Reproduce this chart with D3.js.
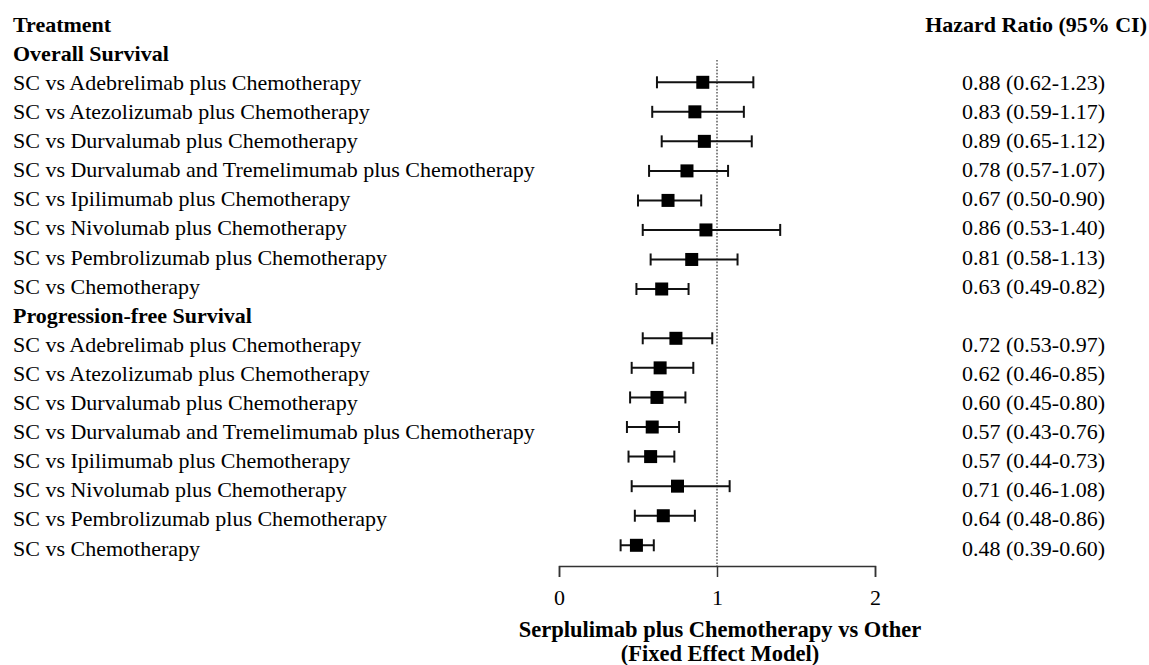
<html>

<script src="https://d3js.org/d3.v7.min.js"></script>

<style>
    body { margin: 0; background: #fff; }
    svg text {
        font-family: "Liberation Serif", "Times New Roman", serif;
        font-size: 22px;
        fill: #000;
    }
    .bold { font-weight: bold; }
    .title { font-size: 22.5px; }
    .ci line { stroke: #111; stroke-width: 2px; }
    .ref { stroke: #666; stroke-width: 1.6px; stroke-dasharray: 1.6,1.6; }
    .axis path, .axis line { stroke: #333; stroke-width: 1.5px; }
</style>

<svg width=1149 height=665></svg>

<script>
    // comparisons (same for both endpoints)
    let treatments = [
        'SC vs Adebrelimab plus Chemotherapy',
        'SC vs Atezolizumab plus Chemotherapy',
        'SC vs Durvalumab plus Chemotherapy',
        'SC vs Durvalumab and Tremelimumab plus Chemotherapy',
        'SC vs Ipilimumab plus Chemotherapy',
        'SC vs Nivolumab plus Chemotherapy',
        'SC vs Pembrolizumab plus Chemotherapy',
        'SC vs Chemotherapy'
    ];

    // reported hazard ratios (right-hand column)
    let osHR  = [0.88, 0.83, 0.89, 0.78, 0.67, 0.86, 0.81, 0.63];
    let osLo  = [0.62, 0.59, 0.65, 0.57, 0.50, 0.53, 0.58, 0.49];
    let osHi  = [1.23, 1.17, 1.12, 1.07, 0.90, 1.40, 1.13, 0.82];
    let pfsHR = [0.72, 0.62, 0.60, 0.57, 0.57, 0.71, 0.64, 0.48];
    let pfsLo = [0.53, 0.46, 0.45, 0.43, 0.44, 0.46, 0.48, 0.39];
    let pfsHi = [0.97, 0.85, 0.80, 0.76, 0.73, 1.08, 0.86, 0.60];

    // marks as drawn in the plot
    let osPoint  = [0.91, 0.86, 0.92, 0.81, 0.69, 0.93, 0.84, 0.65];
    let osBarLo  = [0.62, 0.59, 0.65, 0.57, 0.50, 0.53, 0.58, 0.49];
    let osBarHi  = [1.23, 1.17, 1.22, 1.07, 0.90, 1.40, 1.13, 0.82];
    let pfsPoint = [0.74, 0.64, 0.62, 0.59, 0.58, 0.75, 0.66, 0.49];
    let pfsBarLo = [0.53, 0.46, 0.45, 0.43, 0.44, 0.46, 0.48, 0.39];
    let pfsBarHi = [0.97, 0.85, 0.80, 0.76, 0.73, 1.08, 0.86, 0.60];

    let xTicks = [0, 1, 2];

    let svg = d3.select('svg');

    let x = d3.scaleLinear().domain([0, 2]).range([559, 875]);

    // text lines: header, OS group, rows, PFS group, rows
    let lineY = i => 24 + 29.1 * i;
    let osMarkY = d3.scaleLinear().domain([0, 7]).range([82.3, 289]);
    let pfsMarkY = d3.scaleLinear().domain([0, 7]).range([338.3, 545.3]);

    let f2 = d3.format('.2f');
    let hrText = (h, l, u) => f2(h) + ' (' + f2(l) + '-' + f2(u) + ')';

    let lines = [{ t: 'Treatment', bold: true },
                 { t: 'Overall Survival', bold: true }]
        .concat(treatments.map((t, i) => ({ t: t, v: hrText(osHR[i], osLo[i], osHi[i]) })))
        .concat([{ t: 'Progression-free Survival', bold: true }])
        .concat(treatments.map((t, i) => ({ t: t, v: hrText(pfsHR[i], pfsLo[i], pfsHi[i]) })));

    svg.selectAll('.lbl')
        .data(lines)
        .enter().append('text')
        .attr('class', d => d.bold ? 'lbl bold' : 'lbl')
        .attr('x', 13)
        .attr('y', (d, i) => lineY(i))
        .attr('dy', '0.35em')
        .text(d => d.t);

    svg.append('text')
        .attr('class', 'bold')
        .attr('x', 1147)
        .attr('y', lineY(0))
        .attr('dy', '0.35em')
        .attr('text-anchor', 'end')
        .text('Hazard Ratio (95% CI)');

    svg.selectAll('.val')
        .data(lines.filter(d => d.v))
        .enter().append('text')
        .attr('class', 'val')
        .attr('x', 962)
        .attr('y', (d, i) => lineY(i < 8 ? i + 2 : i + 3))
        .attr('dy', '0.35em')
        .text(d => d.v);

    // reference line at HR = 1
    svg.append('line')
        .attr('class', 'ref')
        .attr('x1', x(1)).attr('x2', x(1))
        .attr('y1', 60).attr('y2', 566);

    let marks = osPoint.map((p, i) => ({ p: p, lo: osBarLo[i], hi: osBarHi[i], y: osMarkY(i) }))
        .concat(pfsPoint.map((p, i) => ({ p: p, lo: pfsBarLo[i], hi: pfsBarHi[i], y: pfsMarkY(i) })));

    let ci = svg.selectAll('.ci')
        .data(marks)
        .enter().append('g')
        .attr('class', 'ci');

    ci.append('line')
        .attr('x1', d => x(d.lo)).attr('x2', d => x(d.hi))
        .attr('y1', d => d.y).attr('y2', d => d.y);
    ci.append('line')
        .attr('x1', d => x(d.lo)).attr('x2', d => x(d.lo))
        .attr('y1', d => d.y - 6).attr('y2', d => d.y + 6);
    ci.append('line')
        .attr('x1', d => x(d.hi)).attr('x2', d => x(d.hi))
        .attr('y1', d => d.y - 6).attr('y2', d => d.y + 6);
    ci.append('rect')
        .attr('x', d => x(d.p) - 6.5)
        .attr('y', d => d.y - 6.5)
        .attr('width', 13)
        .attr('height', 13)
        .attr('fill', '#000');

    let axis = svg.append('g')
        .attr('class', 'axis')
        .attr('transform', 'translate(0,566)')
        .call(d3.axisBottom(x).tickValues(xTicks).tickSize(11).tickSizeOuter(11).tickFormat(d3.format('d')));
    axis.selectAll('text')
        .attr('y', 23)
        .style('font-size', '22px')
        .style('font-family', '"Liberation Serif", "Times New Roman", serif')
        .attr('fill', '#000');

    svg.append('text')
        .attr('class', 'bold title')
        .attr('x', 720)
        .attr('y', 629)
        .attr('dy', '0.35em')
        .attr('text-anchor', 'middle')
        .text('Serplulimab plus Chemotherapy vs Other');
    svg.append('text')
        .attr('class', 'bold title')
        .attr('x', 720)
        .attr('y', 653)
        .attr('dy', '0.35em')
        .attr('text-anchor', 'middle')
        .text('(Fixed Effect Model)');
</script>
</html>
